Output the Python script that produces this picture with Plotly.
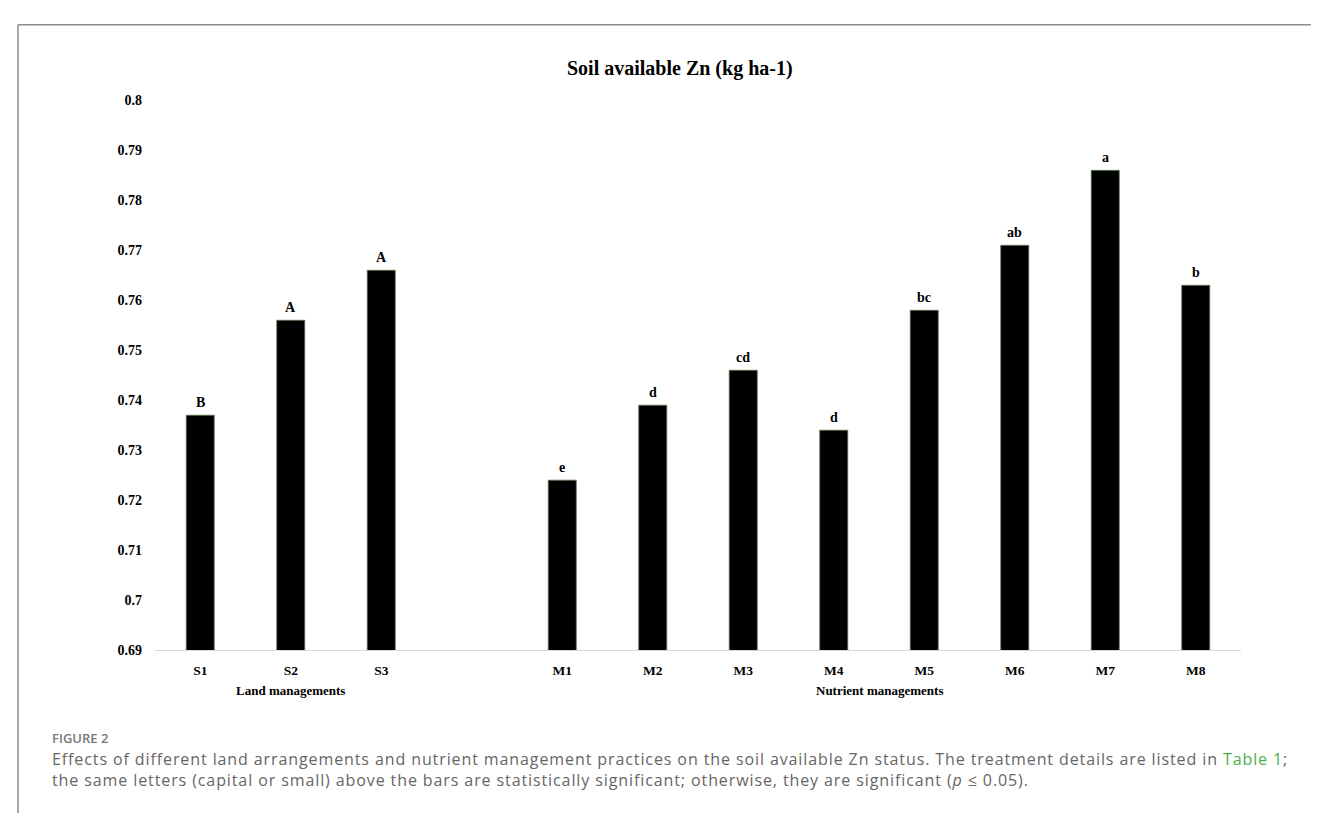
import plotly.graph_objects as go

W, H = 1319, 813

# ---- data ----
categories = ["S1", "S2", "S3", "", "M1", "M2", "M3", "M4", "M5", "M6", "M7", "M8"]
land_labels = ["S1", "S2", "S3"]
land_values = [0.737, 0.756, 0.766]
land_letters = ["B", "A", "A"]
nutrient_labels = ["M1", "M2", "M3", "M4", "M5", "M6", "M7", "M8"]
nutrient_values = [0.724, 0.739, 0.746, 0.734, 0.758, 0.771, 0.786, 0.763]
nutrient_letters = ["e", "d", "cd", "d", "bc", "ab", "a", "b"]
y_tickvals = [0.69, 0.70, 0.71, 0.72, 0.73, 0.74, 0.75, 0.76, 0.77, 0.78, 0.79, 0.80]
y_ticktext = ["0.69", "0.7", "0.71", "0.72", "0.73", "0.74", "0.75", "0.76", "0.77", "0.78", "0.79", "0.8"]
title_text = "Soil available Zn (kg ha-1)"
group_titles = ["Land managements", "Nutrient managements"]
caption_head = "FIGURE 2"
caption_line1 = ("Effects of different land arrangements and nutrient management practices on the soil available Zn status. "
                 "The treatment details are listed in <span style='color:#4cae4c'>Table 1</span>;")
caption_line2 = ("the same letters (capital or small) above the bars are statistically significant; otherwise, "
                 "they are significant (<i>p</i> ≤ 0.05).")

land_x = [categories.index(c) for c in land_labels]
nutrient_x = [categories.index(c) for c in nutrient_labels]
tick_x = [i for i, c in enumerate(categories) if c]
tick_t = [c for c in categories if c]

SERIF = "Liberation Serif, Times New Roman, serif"
SANS = "Open Sans, Noto Sans, sans-serif"

fig = go.Figure()
bar_style = dict(marker=dict(color="black", line=dict(color="#5d7a4e", width=0.8)),
                 showlegend=False, hoverinfo="skip")
fig.add_trace(go.Bar(x=land_x, y=land_values, **bar_style))
fig.add_trace(go.Bar(x=nutrient_x, y=nutrient_values, **bar_style))

annotations = []
for xs, vs, ls in [(land_x, land_values, land_letters), (nutrient_x, nutrient_values, nutrient_letters)]:
    for x, v, l in zip(xs, vs, ls):
        annotations.append(dict(x=x, y=v, xref="x", yref="y", text=l, showarrow=False,
                                yanchor="bottom", yshift=3,
                                font=dict(family=SERIF, size=14, color="black", weight="bold")))


def centre(idx_list):
    return sum(idx_list) / len(idx_list)


for idxs, t in [(land_x, group_titles[0]), (nutrient_x, group_titles[1])]:
    annotations.append(dict(x=centre(idxs), y=1 - 688 / H, xref="x", yref="paper", text=t,
                            showarrow=False, yanchor="middle",
                            font=dict(family=SERIF, size=13, color="black", weight="bold")))

annotations.append(dict(x=672 / W, y=1 - 55 / H, xref="paper", yref="paper", text=title_text,
                        showarrow=False, xanchor="center", yanchor="middle",
                        font=dict(family=SERIF, size=20, color="black", weight="bold")))

SP = "<span style='letter-spacing:0.9px'>{}</span>"
annotations.append(dict(x=42 / W, y=1 - 737 / H, xref="paper", yref="paper", text=caption_head,
                        showarrow=False, xanchor="left", yanchor="middle",
                        font=dict(family=SANS, size=13, color="#777777", weight=600)))
annotations.append(dict(x=42 / W, y=1 - 758 / H, xref="paper", yref="paper", text=SP.format(caption_line1),
                        showarrow=False, xanchor="left", yanchor="middle",
                        font=dict(family=SANS, size=16, color="#666666")))
annotations.append(dict(x=42 / W, y=1 - 779 / H, xref="paper", yref="paper", text=SP.format(caption_line2),
                        showarrow=False, xanchor="left", yanchor="middle",
                        font=dict(family=SANS, size=16, color="#666666")))

shapes = [
    dict(type="line", xref="paper", yref="paper", x0=10 / W, x1=1, y0=1 - 10 / H, y1=1 - 10 / H,
         line=dict(color="#8c8c8c", width=1.5)),
    dict(type="line", xref="paper", yref="paper", x0=10 / W, x1=10 / W, y0=0, y1=1 - 10 / H,
         line=dict(color="#8c8c8c", width=1.5)),
]

fig.update_layout(
    width=W, height=H,
    margin=dict(l=0, r=0, t=0, b=0),
    paper_bgcolor="white", plot_bgcolor="white",
    bargap=0.69,
    annotations=annotations,
    shapes=shapes,
    xaxis=dict(domain=[147 / W, 1233 / W], range=[-0.5, len(categories) - 0.5],
               tickvals=tick_x, ticktext=tick_t, showgrid=False, zeroline=False,
               showline=True, linecolor="#d9d9d9", linewidth=1, ticks="",
               ticklabelstandoff=8,
               tickfont=dict(family=SERIF, size=13.5, color="black", weight="bold")),
    yaxis=dict(domain=[1 - 647 / H, 1 - 87 / H], range=[0.69, 0.80],
               tickvals=y_tickvals, ticktext=y_ticktext, showgrid=False, zeroline=False,
               showline=False, ticks="", ticklabelstandoff=12,
               tickfont=dict(family=SERIF, size=14, color="black", weight="bold")),
)

fig.write_html("out.html")
